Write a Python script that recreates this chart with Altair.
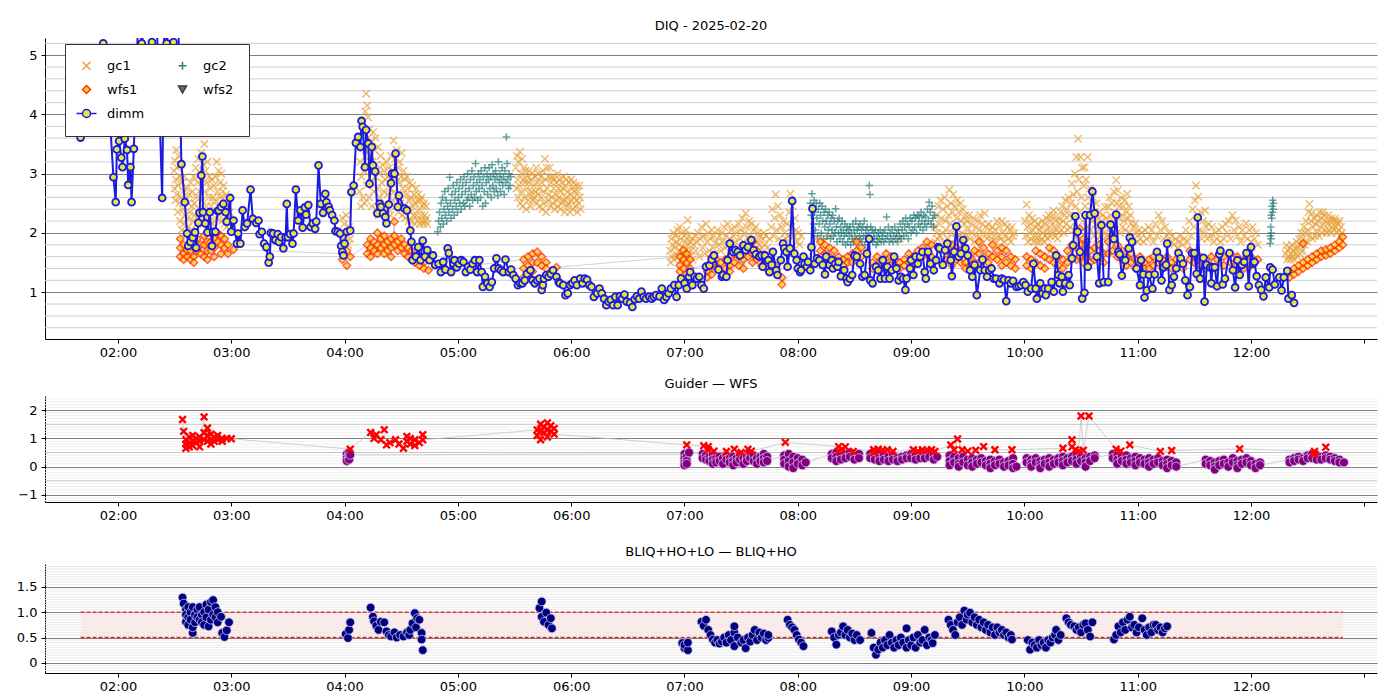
import altair as alt
import pandas as pd

# times are decimal hours (UT) on 2025-02-20

# ---------------------------------------------------------------- DIQ panel
dimm = [
    (1.67, 3.61), (1.75, 4.30), (1.82, 4.80), (1.87, 5.20), (1.90, 4.50), (1.93, 3.90),
    (1.96, 2.94), (1.98, 2.52), (1.99, 3.41), (2.01, 3.55), (2.03, 3.27), (2.04, 3.11),
    (2.06, 3.59), (2.08, 3.40), (2.09, 2.81), (2.11, 3.11), (2.12, 2.52), (2.14, 3.42),
    (2.18, 5.70), (2.21, 5.20), (2.25, 5.70), (2.30, 5.22), (2.34, 5.70), (2.39, 2.59),
    (2.41, 5.70), (2.43, 5.20), (2.46, 5.70), (2.49, 5.22), (2.53, 5.70), (2.56, 3.16),
    (2.59, 2.52), (2.61, 1.99), (2.62, 1.78), (2.64, 1.85), (2.66, 1.92), (2.68, 2.01),
    (2.69, 1.75), (2.71, 2.17), (2.72, 2.34), (2.735, 2.97), (2.745, 3.29), (2.75, 2.35),
    (2.77, 2.16), (2.79, 2.01), (2.81, 2.35), (2.83, 1.78), (2.84, 2.02), (2.86, 2.02),
    (2.88, 2.37), (2.89, 2.38), (2.91, 2.44), (2.93, 2.49), (2.95, 2.35), (2.96, 2.19),
    (2.99, 2.59), (3.00, 2.02), (3.02, 2.21), (3.05, 1.82), (3.06, 1.99), (3.08, 1.82),
    (3.10, 2.38), (3.12, 2.10), (3.14, 2.16), (3.17, 2.73), (3.19, 2.24), (3.22, 2.17),
    (3.24, 2.21), (3.25, 1.98), (3.27, 2.02), (3.29, 1.82), (3.31, 1.76), (3.33, 1.50),
    (3.34, 1.60), (3.35, 2.00), (3.37, 1.99), (3.39, 1.88), (3.41, 1.98), (3.42, 1.85),
    (3.44, 1.93), (3.46, 1.74), (3.48, 1.93), (3.49, 2.49), (3.50, 1.93), (3.52, 1.98),
    (3.54, 1.82), (3.55, 1.99), (3.57, 2.73), (3.59, 2.21), (3.61, 2.38), (3.63, 2.09),
    (3.65, 2.43), (3.66, 2.31), (3.68, 2.47), (3.70, 2.10), (3.72, 2.16), (3.74, 2.07),
    (3.75, 2.19), (3.77, 3.14), (3.79, 2.49), (3.81, 2.34), (3.83, 2.66), (3.84, 2.52),
    (3.86, 2.44), (3.87, 2.38), (3.89, 2.30), (3.91, 2.21), (3.92, 2.03), (3.94, 2.02),
    (3.96, 1.99), (3.97, 1.78), (3.98, 1.68), (3.99, 1.62), (4.00, 1.82), (4.02, 2.02),
    (4.05, 2.04), (4.06, 2.69), (4.08, 2.80), (4.10, 3.52), (4.12, 3.62), (4.14, 3.45),
    (4.15, 3.89), (4.16, 3.79), (4.18, 3.11), (4.19, 3.74), (4.21, 3.51), (4.22, 2.83),
    (4.24, 3.45), (4.25, 3.14), (4.27, 3.04), (4.29, 2.33), (4.31, 2.49), (4.32, 2.44),
    (4.34, 2.33), (4.36, 2.27), (4.37, 2.16), (4.39, 2.48), (4.41, 2.84), (4.42, 3.00),
    (4.44, 3.00), (4.45, 3.34), (4.47, 2.44), (4.48, 2.63), (4.53, 2.41), (4.55, 2.38),
    (4.58, 2.04), (4.59, 1.85), (4.60, 1.54), (4.63, 1.60), (4.65, 1.76), (4.67, 1.54),
    (4.69, 1.87), (4.71, 1.60), (4.73, 1.71), (4.75, 1.54), (4.78, 1.62), (4.80, 1.46),
    (4.83, 1.48), (4.85, 1.34), (4.87, 1.51), (4.89, 1.38), (4.91, 1.74), (4.92, 1.66),
    (4.94, 1.34), (4.96, 1.48), (4.97, 1.54), (4.99, 1.42), (5.01, 1.48), (5.03, 1.54),
    (5.05, 1.51), (5.07, 1.34), (5.09, 1.43), (5.11, 1.38), (5.13, 1.48), (5.15, 1.54),
    (5.17, 1.34), (5.19, 1.54), (5.21, 1.34), (5.22, 1.09), (5.24, 1.26), (5.26, 1.15),
    (5.28, 1.09), (5.30, 1.17), (5.32, 1.40), (5.34, 1.57), (5.36, 1.40), (5.38, 1.37),
    (5.40, 1.34), (5.42, 1.55), (5.45, 1.34), (5.47, 1.38), (5.49, 1.29), (5.51, 1.23),
    (5.53, 1.12), (5.55, 1.15), (5.57, 1.15), (5.59, 1.20), (5.61, 1.31), (5.64, 1.37),
    (5.66, 1.20), (5.68, 1.15), (5.70, 1.20), (5.72, 1.23), (5.74, 1.04), (5.75, 1.12),
    (5.76, 1.23), (5.78, 1.29), (5.80, 1.26), (5.82, 1.31), (5.84, 1.37), (5.87, 1.26),
    (5.89, 1.17), (5.90, 1.15), (5.93, 1.12), (5.95, 0.95), (5.97, 0.98), (5.99, 1.12),
    (6.01, 1.15), (6.03, 1.20), (6.05, 1.12), (6.08, 1.23), (6.10, 1.15), (6.12, 1.23),
    (6.14, 1.21), (6.16, 1.12), (6.18, 1.09), (6.20, 0.92), (6.23, 0.98), (6.25, 1.06),
    (6.27, 0.98), (6.29, 0.89), (6.31, 0.78), (6.33, 0.84), (6.35, 0.87), (6.37, 0.78),
    (6.39, 0.92), (6.41, 0.78), (6.43, 0.93), (6.45, 0.89), (6.47, 0.96), (6.49, 0.84),
    (6.52, 0.82), (6.54, 0.75), (6.56, 0.88), (6.58, 0.93), (6.60, 0.89), (6.62, 1.01),
    (6.64, 0.92), (6.66, 0.89), (6.69, 0.92), (6.71, 0.89), (6.73, 0.92), (6.75, 0.95),
    (6.78, 0.93), (6.80, 1.06), (6.82, 0.87), (6.84, 0.92), (6.86, 0.98), (6.88, 1.06),
    (6.91, 1.12), (6.93, 0.92), (6.95, 1.12), (6.97, 1.23), (7.00, 1.15), (7.02, 1.06),
    (7.04, 1.26), (7.05, 1.34), (7.07, 1.12), (7.09, 1.26), (7.11, 1.23), (7.13, 1.26),
    (7.15, 1.12), (7.17, 1.06), (7.19, 1.43), (7.22, 1.45), (7.24, 1.55), (7.26, 1.62),
    (7.30, 1.38), (7.33, 1.26), (7.34, 1.29), (7.37, 1.26), (7.38, 1.54), (7.40, 1.82),
    (7.43, 1.68), (7.45, 1.71), (7.47, 1.68), (7.49, 1.62), (7.52, 1.79), (7.54, 1.71),
    (7.56, 1.76), (7.59, 1.88), (7.61, 1.71), (7.63, 1.64), (7.66, 1.60), (7.68, 1.62),
    (7.69, 1.43), (7.71, 1.62), (7.74, 1.54), (7.75, 1.34), (7.77, 1.46), (7.78, 1.68),
    (7.81, 1.37), (7.82, 1.29), (7.85, 1.54), (7.87, 1.82), (7.88, 1.74), (7.90, 1.68),
    (7.91, 1.43), (7.93, 1.74), (7.95, 2.54), (7.97, 1.65), (7.99, 1.54), (8.00, 1.40),
    (8.02, 1.34), (8.03, 1.37), (8.05, 1.60), (8.06, 1.48), (8.08, 1.43), (8.09, 1.51),
    (8.11, 1.37), (8.12, 1.76), (8.13, 2.41), (8.15, 1.48), (8.17, 1.57), (8.19, 1.54),
    (8.22, 1.46), (8.24, 1.30), (8.25, 1.60), (8.28, 1.46), (8.30, 1.54), (8.31, 1.40),
    (8.33, 1.48), (8.35, 1.43), (8.36, 1.51), (8.38, 1.27), (8.41, 1.37), (8.43, 1.23),
    (8.44, 1.17), (8.46, 1.23), (8.48, 1.29), (8.50, 1.62), (8.52, 1.60), (8.55, 1.48),
    (8.57, 1.26), (8.59, 1.29), (8.61, 1.65), (8.63, 1.90), (8.64, 1.20), (8.66, 1.15),
    (8.69, 1.43), (8.71, 1.37), (8.73, 1.23), (8.75, 1.54), (8.77, 1.23), (8.79, 1.43),
    (8.81, 1.23), (8.83, 1.37), (8.85, 1.60), (8.87, 1.40), (8.89, 1.20), (8.91, 1.26),
    (8.93, 1.23), (8.95, 1.04), (8.96, 1.23), (8.99, 1.40), (9.00, 1.54), (9.02, 1.29),
    (9.04, 1.60), (9.06, 1.48), (9.08, 1.60), (9.10, 1.68), (9.12, 1.34), (9.13, 1.23),
    (9.15, 1.68), (9.17, 1.48), (9.20, 1.37), (9.22, 1.54), (9.24, 1.76), (9.25, 1.74),
    (9.28, 1.46), (9.30, 1.71), (9.32, 1.82), (9.35, 1.54), (9.36, 1.27), (9.38, 1.68),
    (9.40, 2.11), (9.42, 1.60), (9.44, 1.65), (9.46, 1.88), (9.48, 1.74), (9.50, 1.62),
    (9.52, 1.37), (9.54, 1.26), (9.56, 1.46), (9.58, 0.95), (9.61, 1.37), (9.63, 1.55),
    (9.65, 1.37), (9.67, 1.26), (9.69, 1.37), (9.71, 1.40), (9.73, 1.23), (9.75, 1.23),
    (9.78, 1.15), (9.80, 1.23), (9.82, 1.21), (9.84, 0.85), (9.86, 1.20), (9.88, 1.15),
    (9.90, 1.19), (9.93, 1.09), (9.95, 1.10), (9.97, 1.12), (9.99, 1.17), (10.01, 1.12),
    (10.03, 1.01), (10.06, 1.06), (10.08, 1.48), (10.10, 1.06), (10.11, 0.89), (10.14, 1.15),
    (10.16, 0.98), (10.18, 1.06), (10.19, 0.95), (10.21, 1.06), (10.24, 1.17), (10.26, 1.01),
    (10.28, 1.62), (10.30, 1.29), (10.31, 1.15), (10.33, 1.26), (10.34, 1.01), (10.36, 1.15),
    (10.39, 1.29), (10.40, 1.12), (10.42, 1.57), (10.43, 1.79), (10.45, 2.28), (10.47, 2.02),
    (10.49, 1.68), (10.51, 0.89), (10.53, 0.99), (10.54, 2.30), (10.56, 1.43), (10.58, 2.30),
    (10.60, 2.70), (10.62, 2.33), (10.64, 1.60), (10.66, 1.15), (10.68, 2.13), (10.70, 1.17),
    (10.74, 1.17), (10.76, 2.14), (10.79, 1.90), (10.81, 2.31), (10.83, 1.68), (10.84, 1.64),
    (10.86, 1.28), (10.89, 1.54), (10.92, 1.74), (10.93, 1.92), (10.95, 1.85), (10.99, 1.40),
    (11.02, 1.12), (11.03, 1.54), (11.05, 1.30), (11.06, 0.91), (11.08, 1.03), (11.10, 1.29),
    (11.13, 1.06), (11.15, 1.30), (11.17, 1.68), (11.19, 1.58), (11.21, 1.20), (11.23, 1.42),
    (11.25, 1.46), (11.26, 1.82), (11.28, 1.04), (11.30, 1.12), (11.32, 1.26), (11.34, 1.40),
    (11.36, 1.66), (11.38, 1.57), (11.40, 1.48), (11.42, 1.20), (11.44, 0.95), (11.46, 1.09),
    (11.48, 1.66), (11.50, 1.66), (11.52, 1.31), (11.53, 2.26), (11.55, 1.23), (11.58, 1.58),
    (11.59, 0.84), (11.61, 1.46), (11.64, 1.42), (11.65, 1.15), (11.66, 1.42), (11.68, 1.42),
    (11.70, 1.10), (11.72, 1.64), (11.73, 1.70), (11.75, 1.13), (11.77, 1.23), (11.81, 1.66),
    (11.84, 1.37), (11.86, 1.08), (11.88, 1.54), (11.90, 1.29), (11.92, 1.46), (11.94, 1.51),
    (11.96, 1.66), (11.98, 1.10), (12.00, 1.76), (12.02, 1.48), (12.03, 1.51), (12.05, 1.27),
    (12.07, 1.12), (12.09, 1.04), (12.11, 0.93), (12.13, 1.25), (12.16, 1.08), (12.17, 1.42),
    (12.19, 1.38), (12.21, 1.13), (12.25, 1.25), (12.27, 1.03), (12.29, 1.25), (12.32, 1.36),
    (12.33, 0.89), (12.36, 0.95), (12.38, 0.82),
]

gc1 = [
    (2.495, 3.05), (2.498, 2.75), (2.502, 3.22), (2.506, 2.55), (2.511, 2.9), (2.515, 3.4),
    (2.519, 2.65), (2.523, 3.1), (2.527, 2.35), (2.532, 2.8), (2.536, 3.3), (2.541, 2.5),
    (2.545, 2.95), (2.549, 2.2), (2.553, 3.15), (2.558, 2.6), (2.563, 2.05), (2.567, 2.85),
    (2.572, 2.4), (2.577, 2.7), (2.581, 2.15), (2.586, 2.95), (2.591, 2.3), (2.596, 2.55),
    (2.602, 2.0), (2.607, 2.75), (2.613, 2.25), (2.618, 2.5), (2.624, 2.1), (2.629, 2.65),
    (2.635, 2.35), (2.641, 2.85), (2.646, 2.05), (2.652, 2.45), (2.658, 2.7), (2.663, 2.2),
    (2.669, 2.95), (2.674, 2.5), (2.68, 2.3), (2.686, 3.1), (2.691, 2.6), (2.697, 2.15),
    (2.702, 2.85), (2.708, 3.25), (2.713, 2.4), (2.719, 2.7), (2.724, 3.0), (2.73, 2.25),
    (2.735, 3.35), (2.741, 2.55), (2.746, 2.9), (2.752, 3.15), (2.757, 2.35), (2.762, 3.5),
    (2.768, 2.7), (2.773, 3.05), (2.779, 2.45), (2.784, 2.85), (2.79, 3.2), (2.795, 2.3),
    (2.801, 2.6), (2.806, 2.95), (2.812, 2.2), (2.817, 2.75), (2.823, 2.45), (2.828, 2.9),
    (2.834, 2.15), (2.839, 2.6), (2.845, 2.8), (2.85, 2.35), (2.856, 2.55), (2.861, 2.95),
    (2.867, 2.25), (2.872, 3.2), (2.878, 2.7), (2.883, 2.45), (2.889, 3.05), (2.894, 2.3),
    (2.9, 2.85), (2.905, 2.6), (2.911, 3.0), (2.916, 2.2), (2.922, 2.7), (2.927, 2.45),
    (2.933, 2.8), (2.938, 2.15), (2.944, 2.55), (2.949, 2.35), (2.955, 2.65), (2.96, 2.1),
    (2.966, 2.45), (2.971, 2.25), (2.977, 2.55), (2.982, 2.15), (2.988, 2.35),
    (3.972, 2.0), (3.981, 2.25), (3.99, 1.9), (3.998, 2.15), (4.006, 1.85), (4.015, 2.3),
    (4.023, 2.0), (4.031, 1.8), (4.04, 2.1), (4.05, 1.9), (4.058, 2.05),
    (4.132, 2.7), (4.138, 3.2), (4.144, 2.45), (4.15, 2.95), (4.156, 3.45), (4.162, 2.6),
    (4.168, 3.75), (4.173, 3.05), (4.178, 2.5), (4.183, 4.05), (4.187, 3.4), (4.191, 4.35),
    (4.195, 2.8), (4.199, 4.15), (4.203, 3.6), (4.207, 3.95), (4.212, 3.1), (4.217, 2.6),
    (4.222, 3.75), (4.227, 3.3), (4.232, 2.85), (4.237, 3.55), (4.242, 2.45), (4.247, 3.2),
    (4.252, 3.7), (4.258, 2.7), (4.263, 3.4), (4.268, 2.95), (4.274, 3.6), (4.279, 2.4),
    (4.284, 3.15), (4.29, 2.75), (4.295, 3.45), (4.301, 2.3), (4.306, 3.0), (4.312, 2.6),
    (4.317, 3.3), (4.323, 2.45), (4.328, 2.85), (4.334, 3.15), (4.339, 2.35), (4.345, 2.7),
    (4.35, 3.05), (4.356, 2.5), (4.361, 2.9), (4.367, 2.3), (4.372, 3.2), (4.378, 2.65),
    (4.383, 2.95), (4.389, 2.4), (4.394, 3.1), (4.4, 2.75), (4.405, 2.3), (4.411, 3.3),
    (4.416, 2.9), (4.422, 2.55), (4.427, 3.05), (4.433, 3.56), (4.438, 2.7), (4.444, 3.25),
    (4.449, 2.45), (4.455, 2.95), (4.46, 3.4), (4.466, 2.6), (4.471, 3.1), (4.477, 2.35),
    (4.482, 2.85), (4.488, 3.2), (4.493, 2.5), (4.499, 2.95), (4.504, 3.35), (4.51, 2.3),
    (4.515, 2.75), (4.521, 3.05), (4.526, 2.45), (4.532, 2.9), (4.537, 2.25), (4.543, 2.65),
    (4.548, 2.95), (4.554, 2.4), (4.559, 2.75), (4.565, 2.2), (4.57, 2.55), (4.576, 2.85),
    (4.581, 2.35), (4.587, 2.6), (4.592, 2.2), (4.598, 2.8), (4.603, 2.45), (4.609, 2.3),
    (4.614, 2.65), (4.62, 2.15), (4.625, 2.5), (4.631, 2.75), (4.636, 2.3), (4.642, 2.55),
    (4.647, 2.2), (4.653, 2.65), (4.658, 2.4), (4.664, 2.15), (4.669, 2.55), (4.675, 2.3),
    (4.68, 2.6), (4.686, 2.2), (4.691, 2.45), (4.697, 2.15), (4.702, 2.5), (4.708, 2.3),
    (4.713, 2.2), (4.719, 2.45), (4.724, 2.25), (4.73, 2.15),
    (5.512, 3.1), (5.517, 2.75), (5.522, 3.3), (5.527, 2.9), (5.532, 2.6), (5.537, 3.2),
    (5.542, 2.8), (5.547, 3.37), (5.552, 2.5), (5.557, 3.0), (5.562, 2.7), (5.567, 3.25),
    (5.572, 2.45), (5.577, 2.9), (5.582, 3.1), (5.588, 2.6), (5.593, 2.85), (5.598, 3.05),
    (5.603, 2.4), (5.609, 2.75), (5.614, 2.95), (5.619, 2.55), (5.625, 2.85), (5.63, 3.05),
    (5.636, 2.65), (5.641, 2.45), (5.647, 2.9), (5.652, 2.7), (5.658, 3.0), (5.663, 2.55),
    (5.669, 2.8), (5.674, 2.6), (5.68, 2.95), (5.685, 2.7), (5.691, 3.1), (5.696, 2.5),
    (5.702, 2.85), (5.707, 2.65), (5.713, 3.0), (5.718, 2.45), (5.724, 2.75), (5.729, 2.95),
    (5.735, 2.6), (5.74, 2.85), (5.746, 2.4), (5.751, 3.05), (5.757, 2.7), (5.762, 2.5),
    (5.768, 3.25), (5.773, 2.9), (5.779, 2.35), (5.784, 3.1), (5.79, 2.75), (5.795, 2.55),
    (5.801, 2.95), (5.806, 2.65), (5.812, 3.1), (5.817, 2.45), (5.823, 2.85), (5.828, 2.6),
    (5.834, 2.95), (5.839, 2.5), (5.845, 2.75), (5.85, 2.9), (5.856, 2.4), (5.861, 2.65),
    (5.867, 2.85), (5.872, 2.55), (5.878, 3.0), (5.883, 2.45), (5.889, 2.75), (5.894, 2.6),
    (5.9, 2.9), (5.905, 2.4), (5.911, 2.7), (5.916, 2.85), (5.922, 2.5), (5.927, 2.75),
    (5.933, 2.95), (5.938, 2.55), (5.944, 2.35), (5.949, 2.8), (5.955, 2.6), (5.96, 2.9),
    (5.966, 2.45), (5.971, 2.7), (5.977, 2.5), (5.982, 2.85), (5.988, 2.35), (5.993, 2.65),
    (5.999, 2.9), (6.004, 2.55), (6.01, 2.75), (6.015, 2.4), (6.021, 2.85), (6.026, 2.6),
    (6.032, 2.7), (6.037, 2.45), (6.043, 2.8), (6.048, 2.55), (6.054, 2.35), (6.06, 2.7),
    (6.066, 2.5), (6.072, 2.8), (6.078, 2.6), (6.084, 2.4),
    (6.872, 1.7), (6.878, 1.5), (6.884, 1.9), (6.89, 1.6), (6.896, 1.8), (6.902, 2.0),
    (6.908, 1.55), (6.914, 1.75), (6.92, 1.95), (6.926, 1.65), (6.932, 1.85), (6.938, 2.05),
    (6.944, 1.6), (6.95, 1.8), (6.956, 2.1), (6.962, 1.7), (6.968, 1.9), (6.974, 1.55),
    (6.98, 2.0), (6.986, 1.75), (6.992, 1.6), (6.998, 1.95), (7.004, 1.7), (7.01, 1.85),
    (7.016, 2.05), (7.022, 1.65), (7.028, 2.22), (7.034, 1.8), (7.04, 1.95), (7.046, 1.6),
    (7.052, 1.85), (7.058, 1.7), (7.064, 1.9), (7.07, 1.55), (7.08, 1.8), (7.09, 1.95),
    (7.1, 1.7), (7.11, 1.85), (7.12, 2.0), (7.13, 1.6), (7.14, 1.9), (7.15, 2.1),
    (7.16, 1.75), (7.17, 1.95), (7.18, 1.65), (7.19, 2.15), (7.2, 1.85), (7.21, 2.0),
    (7.22, 1.7), (7.23, 1.9), (7.24, 2.05), (7.25, 1.75), (7.26, 1.95), (7.27, 1.65),
    (7.28, 1.85), (7.29, 2.05), (7.3, 1.8), (7.31, 1.95), (7.32, 1.7), (7.33, 2.0),
    (7.34, 1.85), (7.35, 2.1), (7.36, 1.75), (7.37, 1.95), (7.38, 2.15), (7.39, 1.8),
    (7.4, 1.9), (7.41, 2.05), (7.42, 1.75), (7.43, 1.95), (7.44, 2.1), (7.45, 1.85),
    (7.46, 2.0), (7.47, 1.75), (7.48, 2.15), (7.49, 1.9), (7.5, 2.05), (7.51, 2.25),
    (7.52, 1.85), (7.53, 2.0), (7.54, 2.33), (7.55, 2.1), (7.56, 1.9), (7.57, 2.2),
    (7.58, 1.95), (7.59, 2.15), (7.6, 1.8), (7.61, 2.05), (7.62, 1.9), (7.63, 2.1),
    (7.64, 1.85), (7.65, 2.0), (7.66, 1.8), (7.67, 1.95), (7.68, 1.75), (7.69, 1.9),
    (7.7, 2.0), (7.71, 1.8), (7.72, 1.95), (7.73, 1.75), (7.75, 1.9), (7.765, 2.1),
    (7.775, 2.4), (7.785, 1.95), (7.795, 2.25), (7.805, 2.65), (7.815, 2.05), (7.825, 2.45),
    (7.835, 1.9), (7.845, 2.3), (7.855, 2.1), (7.865, 1.85), (7.875, 2.2), (7.885, 2.0),
    (7.895, 1.9), (7.905, 2.15), (7.915, 1.95), (7.925, 2.35), (7.935, 2.66), (7.945, 2.1),
    (7.955, 2.45), (7.965, 1.95), (7.975, 2.25), (7.985, 2.05), (7.995, 1.85), (8.005, 2.0),
    (8.015, 1.8), (8.03, 1.95), (8.16, 1.9), (8.22, 1.85), (8.28, 1.95), (8.9, 1.9),
    (9.205, 2.1), (9.212, 1.85), (9.219, 2.3), (9.226, 2.0), (9.233, 1.9), (9.24, 2.45),
    (9.247, 2.15), (9.254, 1.95), (9.261, 2.55), (9.268, 2.25), (9.275, 2.0), (9.282, 2.4),
    (9.289, 1.85), (9.296, 2.6), (9.303, 2.2), (9.31, 2.05), (9.317, 2.45), (9.324, 1.9),
    (9.331, 2.3), (9.338, 2.73), (9.345, 2.15), (9.352, 2.5), (9.359, 2.0), (9.366, 2.35),
    (9.373, 2.65), (9.38, 2.1), (9.387, 2.45), (9.394, 1.9), (9.401, 2.25), (9.408, 2.55),
    (9.415, 2.05), (9.422, 2.35), (9.429, 1.95), (9.436, 2.5), (9.443, 2.2), (9.45, 2.0),
    (9.457, 2.4), (9.464, 1.85), (9.471, 2.15), (9.478, 2.3), (9.485, 1.95), (9.492, 2.2),
    (9.5, 2.05), (9.51, 2.3), (9.52, 1.9), (9.53, 2.15), (9.54, 2.0), (9.55, 2.25),
    (9.56, 1.85), (9.57, 2.1), (9.58, 1.95), (9.59, 2.2), (9.6, 2.05), (9.61, 2.3),
    (9.62, 1.9), (9.63, 2.15), (9.64, 2.0), (9.65, 2.33), (9.66, 2.1), (9.67, 1.9),
    (9.68, 2.15), (9.69, 1.95), (9.7, 2.05), (9.71, 1.85), (9.72, 2.1), (9.73, 1.95),
    (9.74, 2.05), (9.75, 1.85), (9.76, 2.2), (9.77, 1.95), (9.78, 2.1), (9.79, 1.9),
    (9.8, 2.2), (9.81, 2.0), (9.82, 1.85), (9.83, 2.15), (9.84, 1.95), (9.85, 2.1),
    (9.86, 1.9), (9.87, 2.05), (9.88, 1.85), (9.89, 2.1), (9.9, 1.95), (9.91, 2.0),
    (10.005, 2.2), (10.012, 1.95), (10.019, 2.48), (10.026, 2.1), (10.033, 1.85), (10.04, 2.3),
    (10.047, 2.0), (10.054, 2.15), (10.061, 1.9), (10.068, 2.25), (10.075, 2.05), (10.082, 1.85),
    (10.089, 2.2), (10.096, 1.95), (10.103, 2.1), (10.11, 1.85), (10.117, 2.15), (10.124, 1.95),
    (10.131, 2.05), (10.138, 1.85), (10.145, 2.1), (10.152, 1.9), (10.159, 2.2), (10.166, 2.0),
    (10.173, 1.85), (10.18, 2.15), (10.187, 1.95), (10.194, 2.25), (10.201, 2.05), (10.208, 1.9),
    (10.215, 2.3), (10.222, 2.1), (10.229, 1.95), (10.236, 2.2), (10.243, 2.0), (10.25, 2.3),
    (10.257, 2.38), (10.264, 2.1), (10.271, 1.95), (10.278, 2.2), (10.285, 2.05), (10.292, 1.9),
    (10.299, 2.25), (10.306, 2.0), (10.313, 2.15), (10.32, 2.35), (10.327, 2.05), (10.334, 2.45),
    (10.341, 2.2), (10.348, 2.0), (10.355, 2.3), (10.362, 2.55), (10.369, 2.15), (10.376, 2.4),
    (10.383, 2.05), (10.39, 2.6), (10.397, 2.3), (10.404, 2.1), (10.411, 2.5), (10.418, 2.83),
    (10.425, 2.25), (10.432, 2.65), (10.439, 2.05), (10.446, 3.0), (10.453, 2.45), (10.46, 3.28),
    (10.467, 2.7), (10.474, 3.59), (10.481, 2.9), (10.488, 2.35), (10.495, 3.28), (10.502, 2.6),
    (10.509, 3.1), (10.516, 2.2), (10.523, 2.8), (10.53, 3.11), (10.537, 2.45), (10.544, 2.9),
    (10.551, 2.1), (10.558, 3.28), (10.565, 2.6), (10.572, 2.3), (10.579, 2.75), (10.586, 2.05),
    (10.593, 2.45), (10.6, 2.2), (10.607, 2.6), (10.614, 1.95), (10.621, 2.35), (10.628, 2.15),
    (10.635, 2.5), (10.642, 1.9), (10.649, 2.25), (10.656, 2.05), (10.663, 2.35), (10.67, 1.95),
    (10.677, 2.2), (10.684, 2.05), (10.691, 2.3), (10.698, 1.9), (10.705, 2.15), (10.712, 2.44),
    (10.719, 2.0), (10.726, 2.25), (10.733, 1.95), (10.74, 2.44), (10.747, 2.1), (10.754, 2.6),
    (10.761, 2.3), (10.768, 2.0), (10.775, 2.5), (10.782, 2.2), (10.789, 2.7), (10.796, 2.35),
    (10.803, 2.05), (10.81, 2.89), (10.817, 2.5), (10.824, 2.72), (10.831, 2.25), (10.838, 2.45),
    (10.845, 2.0), (10.852, 2.6), (10.859, 2.3), (10.866, 2.1), (10.873, 2.45), (10.88, 2.2),
    (10.887, 2.55), (10.894, 2.05), (10.901, 2.35), (10.908, 2.66), (10.915, 2.25), (10.922, 2.45),
    (10.929, 2.0), (10.936, 2.3), (10.943, 2.16), (10.95, 1.95), (10.96, 2.1), (10.97, 1.9),
    (10.98, 2.16), (10.99, 2.0), (11.0, 1.85), (11.01, 2.05), (11.02, 1.9), (11.035, 2.0),
    (11.05, 1.85), (11.065, 2.05), (11.08, 1.9), (11.095, 2.1), (11.11, 1.95), (11.125, 2.05),
    (11.14, 1.85), (11.155, 2.15), (11.17, 1.95), (11.185, 2.3), (11.2, 2.05), (11.215, 2.2),
    (11.23, 1.9), (11.245, 2.1), (11.26, 1.95), (11.275, 2.0), (11.29, 1.85), (11.305, 1.95),
    (11.32, 1.8), (11.335, 1.9), (11.35, 1.75), (11.365, 1.85), (11.38, 1.95), (11.395, 1.8),
    (11.41, 1.9), (11.425, 2.05), (11.44, 1.85), (11.455, 2.2), (11.47, 1.95), (11.485, 2.4),
    (11.495, 2.1), (11.505, 2.55), (11.515, 2.8), (11.525, 2.3), (11.535, 2.61), (11.545, 2.05),
    (11.555, 2.35), (11.565, 1.9), (11.575, 2.2), (11.585, 2.0), (11.595, 2.38), (11.605, 2.1),
    (11.615, 1.9), (11.625, 2.15), (11.64, 1.95), (11.655, 2.1), (11.67, 1.85), (11.685, 2.0),
    (11.7, 1.9), (11.715, 2.05), (11.73, 1.85), (11.745, 2.1), (11.76, 1.9), (11.775, 2.15),
    (11.79, 2.0), (11.805, 2.2), (11.82, 1.9), (11.835, 2.3), (11.85, 2.05), (11.865, 2.21),
    (11.88, 1.95), (11.895, 2.1), (11.91, 1.85), (11.925, 2.05), (11.94, 1.95), (11.955, 2.16),
    (11.97, 1.9), (11.985, 2.05), (12.0, 1.85), (12.015, 2.1), (12.03, 1.9), (12.045, 2.0),
    (12.06, 1.8),
    (12.305, 1.65), (12.312, 1.79), (12.319, 1.55), (12.326, 1.7), (12.333, 1.6), (12.34, 1.75),
    (12.347, 1.55), (12.354, 1.65), (12.361, 1.8), (12.368, 1.6), (12.375, 1.7), (12.382, 1.55),
    (12.389, 1.75), (12.396, 1.65), (12.403, 1.85), (12.41, 1.6), (12.417, 1.75), (12.424, 1.9),
    (12.431, 1.65), (12.438, 1.8), (12.445, 2.0), (12.452, 1.7), (12.459, 1.9), (12.466, 2.1),
    (12.473, 1.8), (12.48, 2.0), (12.487, 2.2), (12.494, 1.85), (12.501, 2.05), (12.508, 2.35),
    (12.515, 2.49), (12.522, 1.95), (12.529, 2.2), (12.536, 2.33), (12.543, 1.9), (12.55, 2.1),
    (12.557, 2.25), (12.564, 1.95), (12.571, 2.15), (12.578, 2.3), (12.585, 2.0), (12.592, 2.2),
    (12.599, 1.95), (12.606, 2.35), (12.613, 2.1), (12.62, 2.25), (12.627, 2.0), (12.634, 2.35),
    (12.641, 2.15), (12.648, 2.3), (12.655, 2.05), (12.662, 2.2), (12.669, 2.0), (12.676, 2.15),
    (12.683, 2.3), (12.69, 2.05), (12.697, 2.2), (12.704, 2.0), (12.711, 2.25), (12.718, 2.1),
    (12.725, 2.2), (12.732, 2.05), (12.739, 2.24), (12.746, 2.1), (12.753, 2.2), (12.76, 2.0),
    (12.767, 2.15), (12.774, 2.05), (12.781, 2.2), (12.788, 1.95), (12.795, 2.1), (12.802, 2.0),
]

gc2 = [
    (4.822, 2.02), (4.83, 2.2), (4.838, 2.35), (4.845, 2.1), (4.852, 2.5), (4.858, 2.25),
    (4.865, 2.6), (4.871, 2.15), (4.877, 2.4), (4.884, 2.7), (4.89, 2.3), (4.896, 2.55),
    (4.902, 2.2), (4.909, 2.45), (4.915, 2.75), (4.921, 2.35), (4.928, 2.94), (4.934, 2.5),
    (4.94, 2.25), (4.947, 2.65), (4.953, 2.4), (4.959, 2.8), (4.966, 2.3), (4.972, 2.55),
    (4.978, 2.7), (4.985, 2.45), (4.991, 2.85), (4.997, 2.35), (5.004, 2.6), (5.01, 2.75),
    (5.016, 2.5), (5.023, 2.9), (5.029, 2.4), (5.035, 2.65), (5.042, 2.8), (5.048, 2.5),
    (5.054, 2.95), (5.061, 2.45), (5.067, 2.7), (5.073, 2.85), (5.08, 2.55), (5.086, 3.0),
    (5.092, 2.6), (5.099, 2.75), (5.105, 2.45), (5.111, 2.9), (5.118, 2.65), (5.124, 3.05),
    (5.13, 2.55), (5.137, 2.8), (5.143, 2.95), (5.149, 2.6), (5.156, 3.17), (5.162, 2.7),
    (5.168, 2.85), (5.175, 2.55), (5.181, 3.0), (5.187, 2.75), (5.194, 2.9), (5.2, 2.6),
    (5.206, 3.05), (5.213, 2.8), (5.219, 2.45), (5.225, 2.95), (5.232, 2.7), (5.238, 3.1),
    (5.244, 2.5), (5.251, 2.85), (5.257, 3.0), (5.263, 2.65), (5.27, 2.9), (5.276, 3.1),
    (5.282, 2.75), (5.289, 2.95), (5.295, 2.6), (5.301, 3.15), (5.308, 2.8), (5.314, 3.0),
    (5.32, 2.7), (5.327, 2.9), (5.333, 3.05), (5.339, 2.75), (5.346, 2.95), (5.352, 2.63),
    (5.358, 3.2), (5.365, 2.85), (5.371, 3.0), (5.377, 2.7), (5.384, 2.9), (5.39, 3.1),
    (5.396, 2.8), (5.403, 2.95), (5.409, 2.65), (5.415, 3.05), (5.422, 2.85), (5.428, 3.62),
    (5.434, 3.17), (5.441, 2.9), (5.447, 2.75), (5.453, 3.0), (5.46, 2.8), (5.466, 2.95),
    (8.112, 2.5), (8.118, 2.3), (8.125, 2.66), (8.131, 2.45), (8.137, 2.15), (8.144, 2.55),
    (8.15, 2.35), (8.156, 2.05), (8.163, 2.5), (8.169, 2.25), (8.175, 1.95), (8.182, 2.4),
    (8.188, 2.15), (8.194, 2.5), (8.201, 2.3), (8.207, 2.0), (8.213, 2.45), (8.22, 2.2),
    (8.226, 1.9), (8.232, 2.35), (8.239, 2.1), (8.245, 2.4), (8.251, 2.2), (8.258, 1.95),
    (8.264, 2.3), (8.27, 2.05), (8.277, 2.35), (8.283, 2.15), (8.289, 1.9), (8.296, 2.25),
    (8.302, 2.05), (8.308, 2.3), (8.315, 1.95), (8.321, 2.2), (8.327, 2.0), (8.334, 2.41),
    (8.34, 2.1), (8.346, 1.85), (8.353, 2.2), (8.359, 2.0), (8.365, 2.25), (8.372, 1.9),
    (8.378, 2.1), (8.384, 2.0), (8.391, 2.2), (8.397, 1.85), (8.403, 2.05), (8.41, 1.95),
    (8.416, 2.15), (8.422, 1.8), (8.429, 2.0), (8.435, 2.1), (8.441, 1.85), (8.448, 2.05),
    (8.454, 1.95), (8.46, 2.1), (8.467, 1.8), (8.473, 2.0), (8.479, 1.9), (8.486, 2.15),
    (8.492, 1.85), (8.498, 2.05), (8.505, 1.95), (8.511, 2.2), (8.517, 1.9), (8.524, 2.05),
    (8.53, 1.85), (8.536, 2.1), (8.543, 1.95), (8.549, 2.15), (8.555, 1.9), (8.562, 2.05),
    (8.568, 1.85), (8.574, 2.1), (8.581, 1.95), (8.587, 2.2), (8.593, 1.8), (8.6, 2.05),
    (8.606, 1.95), (8.612, 2.1), (8.619, 1.85), (8.625, 2.0), (8.631, 2.80), (8.637, 2.65),
    (8.644, 2.1), (8.65, 1.9), (8.657, 2.05), (8.663, 1.85), (8.67, 2.0), (8.677, 1.9),
    (8.684, 2.05), (8.691, 1.8), (8.698, 1.95), (8.705, 1.85), (8.712, 2.0), (8.72, 1.9),
    (8.728, 2.05), (8.736, 1.85), (8.744, 1.95), (8.752, 2.0), (8.76, 1.85), (8.768, 2.05),
    (8.776, 1.9), (8.784, 2.27), (8.792, 1.95), (8.8, 2.1), (8.808, 1.85), (8.816, 2.0),
    (8.824, 1.9), (8.832, 2.05), (8.84, 1.85), (8.848, 1.95), (8.856, 2.1), (8.864, 1.9),
    (8.872, 2.0), (8.88, 1.85), (8.888, 2.05), (8.896, 1.95), (8.904, 2.15), (8.912, 1.9),
    (8.92, 2.05), (8.928, 2.2), (8.936, 1.95), (8.944, 2.1), (8.952, 2.25), (8.96, 2.0),
    (8.968, 2.15), (8.976, 1.9), (8.984, 2.1), (8.992, 2.25), (9.0, 2.0), (9.008, 2.2),
    (9.016, 2.05), (9.024, 2.3), (9.032, 2.1), (9.04, 2.25), (9.048, 2.0), (9.056, 2.3),
    (9.064, 2.15), (9.072, 2.27), (9.08, 2.1), (9.088, 2.35), (9.096, 2.2), (9.104, 2.05),
    (9.112, 2.3), (9.12, 2.15), (9.128, 2.27), (9.136, 2.1), (9.144, 2.4), (9.152, 2.2),
    (9.16, 2.52), (9.168, 2.35), (9.176, 2.15), (9.184, 2.45), (9.192, 2.25), (9.2, 2.1),
    (9.208, 2.3),
    (12.168, 1.82), (12.171, 1.95), (12.174, 2.1), (12.177, 1.9), (12.178, 2.3), (12.18, 2.0),
    (12.183, 2.25), (12.186, 2.45), (12.189, 2.35), (12.192, 2.55), (12.195, 2.4), (12.198, 2.5),
]

wfs1 = [
    (2.55, [1.9, 1.75, 1.6]), (2.58, [1.8, 1.65, 1.55]), (2.61, [1.7, 1.6]),
    (2.64, [1.85, 1.7, 1.55]), (2.67, [1.75, 1.6, 1.5]), (2.70, [1.9, 1.7]),
    (2.73, [1.8, 1.65]), (2.76, [1.95, 1.8, 1.6]), (2.79, [1.85, 1.7, 1.55]),
    (2.82, [2.0, 1.85, 1.7]), (2.85, [1.9, 1.75, 1.6]), (2.88, [2.0, 1.85]),
    (2.91, [1.95, 1.8, 1.65]), (2.94, [1.9, 1.75]), (2.97, [1.8, 1.65]), (3.02, [1.72]),
    (3.98, [1.65, 1.55]), (4.02, [1.7, 1.45]), (4.05, [1.6]),
    (4.20, [1.8, 1.65]), (4.23, [1.9, 1.75, 1.6]), (4.26, [1.85, 1.7]),
    (4.29, [2.0, 1.8, 1.65]), (4.32, [1.9, 1.75]), (4.35, [1.95, 1.8, 1.65]),
    (4.38, [1.85, 1.7]), (4.41, [1.9, 1.75, 1.6]), (4.44, [2.19, 1.95, 1.8]),
    (4.47, [1.85, 1.7]), (4.50, [1.9, 1.75]), (4.53, [1.8, 1.65]), (4.56, [1.75, 1.6]),
    (4.59, [1.7, 1.55]), (4.62, [1.6, 1.5]), (4.66, [1.55, 1.45]), (4.70, [1.5, 1.4]),
    (4.74, [1.37]),
    (5.58, [1.55, 1.4, 1.25]), (5.62, [1.6, 1.45, 1.3]), (5.66, [1.65, 1.5, 1.35]),
    (5.70, [1.68, 1.5]), (5.74, [1.6, 1.45]), (5.78, [1.5, 1.4]), (5.87, [1.42]),
    (6.96, [1.6, 1.45, 1.35]), (6.99, [1.71, 1.55, 1.4]), (7.02, [1.65, 1.5, 1.31]),
    (7.05, [1.55, 1.4]),
    (7.20, [1.45, 1.35, 1.25]), (7.24, [1.6, 1.45, 1.3]), (7.28, [1.55, 1.4]),
    (7.32, [1.5, 1.35]), (7.36, [1.55, 1.4]), (7.40, [1.6, 1.45, 1.35]), (7.44, [1.65, 1.5]),
    (7.48, [1.6, 1.45]), (7.52, [1.7, 1.55, 1.4]), (7.56, [1.75, 1.6]),
    (7.60, [1.85, 1.65, 1.5]), (7.64, [1.7, 1.55]), (7.68, [1.6, 1.45]), (7.72, [1.55, 1.4]),
    (7.76, [1.5, 1.35]), (7.80, [1.45]), (7.86, [1.25, 1.13]),
    (8.20, [1.85, 1.7]), (8.24, [1.8, 1.65, 1.5]), (8.28, [1.75, 1.6]), (8.32, [1.7, 1.55]),
    (8.36, [1.6, 1.5]), (8.40, [1.55, 1.45]), (8.44, [1.6, 1.5]), (8.48, [1.65, 1.5]),
    (8.52, [1.85, 1.7]), (8.56, [1.75, 1.6]),
    (8.66, [1.5, 1.4]), (8.70, [1.6, 1.45]), (8.74, [1.55, 1.4]), (8.78, [1.65, 1.5]),
    (8.82, [1.6, 1.45]), (8.86, [1.55, 1.4]), (8.90, [1.5, 1.4]), (8.94, [1.55, 1.45]),
    (8.98, [1.65, 1.5]), (9.02, [1.6, 1.45]), (9.06, [1.7, 1.55]), (9.10, [1.75, 1.6]),
    (9.14, [1.85, 1.65]), (9.18, [1.8, 1.6]),
    (9.32, [1.7, 1.55]), (9.36, [1.8, 1.6, 1.45]), (9.40, [1.75, 1.55]), (9.44, [1.7, 1.5]),
    (9.48, [1.65, 1.5, 1.4]), (9.52, [1.6, 1.45]), (9.56, [1.7, 1.5]),
    (9.60, [1.85, 1.65, 1.5]), (9.64, [1.75, 1.55]), (9.68, [1.65, 1.5]), (9.72, [1.8, 1.6]),
    (9.76, [1.7, 1.55]), (9.80, [1.75, 1.6, 1.45]), (9.84, [1.7, 1.5]), (9.88, [1.6, 1.45]),
    (9.92, [1.55, 1.4]),
    (10.02, [1.6, 1.45]), (10.06, [1.55, 1.4]), (10.10, [1.7, 1.5]), (10.14, [1.65, 1.45]),
    (10.18, [1.6, 1.4]), (10.22, [1.75, 1.55]), (10.26, [1.7, 1.5]), (10.30, [1.6, 1.45]),
    (10.34, [1.55, 1.4]), (10.38, [1.7, 1.5]), (10.42, [1.8, 1.6]),
    (10.46, [2.0, 1.75, 1.55]), (10.49, [2.07, 1.8, 1.6]), (10.52, [1.9, 1.7, 1.5]),
    (10.55, [1.85, 1.6]), (10.58, [1.7, 1.5]), (10.62, [1.75, 1.55]), (10.66, [1.8, 1.6]),
    (10.70, [1.65, 1.5]), (10.74, [1.85, 1.65]), (10.78, [1.95, 1.7]), (10.82, [1.8, 1.6]),
    (10.86, [1.7, 1.55]), (10.90, [1.6, 1.45]), (10.94, [1.65, 1.5]), (10.98, [1.55, 1.4]),
    (11.02, [1.6, 1.45]), (11.06, [1.5, 1.4]), (11.10, [1.55, 1.4]), (11.14, [1.6, 1.45]),
    (11.18, [1.5]), (11.22, [1.55, 1.4]), (11.26, [1.6, 1.45]), (11.30, [1.5, 1.4]),
    (11.34, [1.55]), (11.40, [1.5, 1.4]), (11.46, [1.7, 1.55]), (11.50, [1.65, 1.5]),
    (11.55, [1.6, 1.45]), (11.60, [1.55, 1.4]), (11.65, [1.6, 1.45]), (11.70, [1.55]),
    (11.76, [1.6, 1.45]), (11.82, [1.65, 1.5]), (11.88, [1.6, 1.45]), (11.94, [1.55, 1.4]),
    (12.00, [1.6, 1.45]), (12.06, [1.55]),
    (12.34, [1.25, 1.35]), (12.38, [1.3, 1.4]), (12.42, [1.35, 1.45]), (12.46, [1.4, 1.5, 1.82]),
    (12.50, [1.45, 1.55]), (12.54, [1.5, 1.6]), (12.58, [1.55, 1.65]), (12.62, [1.6, 1.7]),
    (12.66, [1.62, 1.72]), (12.70, [1.65, 1.75]), (12.74, [1.7, 1.8]), (12.78, [1.75, 1.85]),
    (12.81, [1.93, 1.8]),
]

wfs2 = []

# ---------------------------------------------------------------- Guider - WFS panel
guider = [
    (2.57, [1.67]), (2.58, [1.25]), (2.60, [0.95, 0.8, 0.65]), (2.63, [1.05, 0.85, 0.7]),
    (2.66, [1.1, 0.9, 0.75]), (2.69, [1.0, 0.85]), (2.72, [1.05, 0.9, 0.7]),
    (2.76, [1.76, 1.2, 0.95]), (2.79, [1.37, 1.1, 0.9]), (2.82, [1.15, 0.95, 0.8]),
    (2.85, [1.05, 0.9]), (2.88, [1.1, 0.95]), (2.92, [1.0, 0.9]), (2.96, [1.0]), (3.00, [0.99]),
    (4.05, [0.62]), (4.23, [1.21]), (4.26, [1.0]), (4.28, [1.13]), (4.32, [0.95]),
    (4.35, [1.31]), (4.37, [0.77]), (4.40, [0.85]), (4.45, [0.95]), (4.48, [0.8]),
    (4.52, [0.65]), (4.55, [1.07, 0.9]), (4.58, [0.8, 1.0]), (4.62, [0.75, 0.95]),
    (4.66, [0.85]), (4.69, [1.13, 0.95]),
    (5.70, [1.3, 1.1]), (5.73, [1.5, 1.25, 0.95]), (5.76, [1.4, 1.2]),
    (5.79, [1.55, 1.3, 1.05]), (5.82, [1.45, 1.25]), (5.85, [1.35, 1.15]),
    (7.02, [0.77]), (7.17, [0.74]), (7.21, [0.71, 0.6]), (7.26, [0.55]), (7.37, [0.54]),
    (7.44, [0.62]), (7.50, [0.5]), (7.56, [0.62]), (7.59, [0.55]), (7.89, [0.86]),
    (8.36, [0.71, 0.55]), (8.39, [0.62]), (8.42, [0.7]), (8.49, [0.54]), (8.67, [0.6, 0.5]),
    (8.71, [0.62]), (8.75, [0.58]), (8.79, [0.6]), (8.84, [0.54]), (9.02, [0.6]),
    (9.06, [0.55]), (9.10, [0.6]), (9.14, [0.58]), (9.18, [0.6]), (9.21, [0.54]),
    (9.35, [0.77]), (9.38, [0.6]), (9.41, [0.98]), (9.45, [0.6]), (9.50, [0.55]),
    (9.57, [0.58]), (9.64, [0.71]), (9.74, [0.6]), (9.89, [0.6]), (10.34, [0.65]),
    (10.42, [0.95, 0.7]), (10.45, [0.6]), (10.48, [0.55]), (10.50, [1.79]), (10.52, [0.58]),
    (10.57, [1.79]), (10.81, [0.62]), (10.85, [0.55]), (10.93, [0.77]), (11.20, [0.54]),
    (11.30, [0.57]), (11.90, [0.63]), (12.56, [0.54, 0.45]), (12.66, [0.69]),
]

wfs = [
    (4.02, [0.45, 0.3, 0.2]), (4.04, [0.5, 0.35, 0.25]), (4.05, [0.42]),
    (7.00, [0.45, 0.3, 0.15, 0.05]), (7.02, [0.36, 0.2, 0.1]), (7.04, [0.5]),
    (7.16, [0.45, 0.3]), (7.19, [0.4, 0.25]), (7.22, [0.35, 0.2]), (7.25, [0.4, 0.25, 0.1]),
    (7.28, [0.3, 0.15]), (7.31, [0.35, 0.2]), (7.34, [0.3, 0.1]), (7.37, [0.4, 0.25]),
    (7.40, [0.3, 0.15]), (7.43, [0.35, 0.2, 0.05]), (7.46, [0.3, 0.15]), (7.49, [0.4, 0.25]),
    (7.52, [0.3, 0.1]), (7.55, [0.35, 0.2]), (7.58, [0.45, 0.3]), (7.61, [0.4, 0.2]),
    (7.64, [0.3, 0.1]), (7.67, [0.35, 0.2]), (7.70, [0.45, 0.3, 0.15]), (7.73, [0.35, 0.2]),
    (7.88, [0.4, 0.25, 0.1]), (7.92, [0.45, 0.2, 0.0]), (7.96, [0.35, 0.15, -0.05]),
    (8.00, [0.3, 0.1]), (8.04, [0.25, 0.05]), (8.07, [0.15]),
    (8.30, [0.45, 0.3]), (8.34, [0.5, 0.35, 0.2]), (8.38, [0.4, 0.25]), (8.42, [0.45, 0.3]),
    (8.46, [0.5, 0.35]), (8.50, [0.4, 0.25]), (8.54, [0.45, 0.3]),
    (8.64, [0.45, 0.3]), (8.68, [0.4, 0.25]), (8.72, [0.45, 0.3, 0.2]), (8.76, [0.4, 0.25]),
    (8.80, [0.35, 0.2]), (8.84, [0.4, 0.25]), (8.88, [0.3, 0.2]), (8.92, [0.35, 0.25]),
    (8.96, [0.4, 0.3]), (9.00, [0.45, 0.3]), (9.04, [0.4, 0.25]), (9.08, [0.45, 0.3]),
    (9.12, [0.4, 0.3]), (9.16, [0.45, 0.35]), (9.20, [0.4, 0.25]), (9.23, [0.35]),
    (9.34, [0.4, 0.2, 0.05]), (9.38, [0.35, 0.15]), (9.42, [0.3, 0.1, 0.0]), (9.46, [0.35, 0.15]),
    (9.50, [0.25, 0.05]), (9.54, [0.3, 0.15, 0.0]), (9.58, [0.25, 0.1]), (9.62, [0.3, 0.15]),
    (9.66, [0.2, 0.05]), (9.70, [0.25, 0.1, -0.05]), (9.74, [0.2, 0.05]), (9.78, [0.25, 0.1]),
    (9.82, [0.15, 0.0]), (9.86, [0.2, 0.05]), (9.90, [0.3, 0.1, -0.05]), (9.93, [0.0]),
    (10.02, [0.3, 0.15]), (10.06, [0.25, 0.1, 0.0]), (10.10, [0.3, 0.15]),
    (10.14, [0.2, 0.05, -0.05]), (10.18, [0.25, 0.1]), (10.22, [0.3, 0.15, 0.0]),
    (10.26, [0.25, 0.1]), (10.30, [0.3, 0.15]), (10.34, [0.35, 0.2, 0.05]), (10.38, [0.3, 0.15]),
    (10.42, [0.35, 0.2]), (10.46, [0.4, 0.25, 0.1]), (10.50, [0.35, 0.2]),
    (10.54, [0.3, 0.15, 0.0]), (10.58, [0.35, 0.2]), (10.62, [0.4, 0.3]),
    (10.78, [0.45, 0.3]), (10.82, [0.4, 0.25, 0.1]), (10.86, [0.35, 0.2]),
    (10.90, [0.4, 0.25, 0.1]), (10.94, [0.3, 0.15]), (10.98, [0.35, 0.2, 0.05]),
    (11.02, [0.3, 0.15]), (11.06, [0.25, 0.1]), (11.10, [0.3, 0.15, 0.0]), (11.14, [0.25, 0.1]),
    (11.18, [0.3, 0.15]), (11.22, [0.2, 0.05]), (11.26, [0.25, 0.1, -0.05]), (11.30, [0.2, 0.05]),
    (11.34, [0.15, 0.0]),
    (11.60, [0.25, 0.1]), (11.64, [0.2, 0.05]), (11.68, [0.15, 0.0, -0.1]), (11.72, [0.2, 0.05]),
    (11.76, [0.25, 0.1]), (11.80, [0.15, 0.0]), (11.84, [0.3, 0.15]), (11.88, [0.2, 0.05, -0.05]),
    (11.92, [0.25, 0.1]), (11.96, [0.3, 0.15]), (12.00, [0.2, 0.05]), (12.04, [0.1, -0.05]),
    (12.08, [0.15, 0.05]),
    (12.34, [0.25, 0.15]), (12.38, [0.3, 0.2]), (12.42, [0.35, 0.25]), (12.46, [0.3, 0.2]),
    (12.50, [0.4, 0.3]), (12.54, [0.45, 0.3]), (12.58, [0.4, 0.25]), (12.62, [0.35, 0.25]),
    (12.66, [0.4, 0.3]), (12.70, [0.35, 0.25]), (12.74, [0.3, 0.2]), (12.78, [0.25, 0.15]),
    (12.82, [0.15]),
]

# ---------------------------------------------------------------- BLIQ panel
bliq = [
    (2.57, [1.29]), (2.58, [1.17]), (2.60, [0.81, 1.05, 0.95]), (2.62, [1.1, 0.9, 0.75]),
    (2.64, [1.0, 0.85]), (2.66, [0.59, 0.7, 1.1]), (2.68, [0.95, 0.8]), (2.70, [1.05, 0.9]),
    (2.72, [1.1, 0.85]), (2.74, [0.95, 0.8]), (2.76, [1.0, 0.75]), (2.78, [0.9, 1.15]),
    (2.80, [0.72, 1.05]), (2.82, [0.85, 1.2]), (2.84, [1.24, 0.95]), (2.86, [1.1, 0.9]),
    (2.88, [1.0, 0.8]), (2.91, [0.91]), (2.92, [0.59]), (2.94, [0.51]), (2.96, [0.64]),
    (2.98, [0.80]),
    (4.01, [0.57]), (4.03, [0.49]), (4.04, [0.65]), (4.05, [0.80]),
    (4.23, [1.09]), (4.25, [0.91]), (4.26, [0.82]), (4.28, [0.73]), (4.30, [0.65]),
    (4.32, [0.81]), (4.35, [0.80]), (4.37, [0.62]), (4.39, [0.55]), (4.41, [0.52]),
    (4.44, [0.6]), (4.46, [0.5]), (4.49, [0.55]), (4.52, [0.52]), (4.55, [0.6]), (4.57, [0.55]),
    (4.58, [0.65]), (4.60, [0.78]), (4.62, [0.98]), (4.63, [0.7]), (4.64, [0.88]), (4.66, [0.85]),
    (4.68, [0.59, 0.46]), (4.69, [0.25]),
    (5.72, [1.08]), (5.74, [1.21, 0.91]), (5.76, [0.81]), (5.78, [0.99]), (5.80, [0.75]),
    (5.82, [0.88]), (5.83, [0.68]),
    (6.98, [0.39]), (7.00, [0.29, 0.35]), (7.03, [0.25, 0.4]),
    (7.15, [0.81]), (7.17, [0.73]), (7.19, [0.85]), (7.21, [0.65]), (7.23, [0.55]), (7.25, [0.46]),
    (7.27, [0.4]), (7.29, [0.45]), (7.31, [0.38]), (7.33, [0.42]), (7.35, [0.5]), (7.37, [0.4]),
    (7.39, [0.55]), (7.41, [0.45]), (7.44, [0.33, 0.6, 0.72]), (7.47, [0.5]), (7.50, [0.4]),
    (7.52, [0.45]), (7.54, [0.29]), (7.56, [0.5]), (7.58, [0.42]), (7.60, [0.55]), (7.62, [0.65]),
    (7.64, [0.45]), (7.66, [0.6]), (7.68, [0.5]), (7.70, [0.58]), (7.72, [0.45]), (7.74, [0.49, 0.55]),
    (7.91, [0.85]), (7.93, [0.75]), (7.95, [0.7]), (7.97, [0.65]), (7.99, [0.55]), (8.01, [0.46]),
    (8.03, [0.4]), (8.05, [0.33]),
    (8.30, [0.62]), (8.32, [0.5]), (8.34, [0.36]), (8.36, [0.55]), (8.38, [0.6]), (8.40, [0.72]),
    (8.42, [0.55]), (8.44, [0.65]), (8.46, [0.5]), (8.48, [0.58]), (8.50, [0.45]), (8.52, [0.55]),
    (8.55, [0.45]),
    (8.65, [0.59]), (8.67, [0.3]), (8.69, [0.16]), (8.71, [0.26]), (8.73, [0.4]), (8.75, [0.3]),
    (8.77, [0.45]), (8.79, [0.35]), (8.81, [0.55]), (8.83, [0.4]), (8.85, [0.3]), (8.87, [0.45]),
    (8.89, [0.35]), (8.91, [0.5]), (8.93, [0.4]), (8.96, [0.68, 0.3]), (8.98, [0.45]), (9.00, [0.35]),
    (9.02, [0.5]), (9.04, [0.3]), (9.06, [0.55]), (9.08, [0.4]), (9.10, [0.45]), (9.12, [0.65]),
    (9.14, [0.35]), (9.16, [0.5]), (9.18, [0.45]), (9.19, [0.39]), (9.21, [0.55]),
    (9.33, [0.85]), (9.35, [0.75]), (9.37, [0.65]), (9.39, [0.55]), (9.41, [0.8]), (9.43, [0.9]),
    (9.45, [0.75]), (9.47, [1.03]), (9.49, [0.85]), (9.50, [0.95]), (9.52, [0.99]), (9.54, [0.8]),
    (9.56, [0.9]), (9.58, [0.75]), (9.60, [0.85]), (9.62, [0.7]), (9.64, [0.8]), (9.66, [0.65]),
    (9.68, [0.75]), (9.70, [0.6]), (9.72, [0.7]), (9.74, [0.55]), (9.76, [0.7]), (9.78, [0.6]),
    (9.80, [0.65]), (9.82, [0.55]), (9.84, [0.6]), (9.86, [0.5]), (9.88, [0.55]), (9.89, [0.46]),
    (10.03, [0.45]), (10.05, [0.26]), (10.07, [0.4]), (10.09, [0.35]), (10.11, [0.3]),
    (10.13, [0.45]), (10.15, [0.35]), (10.17, [0.4]), (10.19, [0.3]), (10.21, [0.45]),
    (10.23, [0.4]), (10.25, [0.5]), (10.27, [0.55]), (10.28, [0.65]), (10.30, [0.45]),
    (10.32, [0.55]),
    (10.37, [0.88]), (10.39, [0.8]), (10.41, [0.75]), (10.44, [0.72]), (10.46, [0.65]),
    (10.48, [0.7]), (10.50, [0.6]), (10.52, [0.75]), (10.54, [0.78]), (10.56, [0.65]),
    (10.58, [0.52]), (10.60, [0.8]),
    (10.79, [0.46]), (10.81, [0.55]), (10.83, [0.72]), (10.85, [0.6]), (10.87, [0.8]),
    (10.89, [0.65]), (10.91, [0.85]), (10.93, [0.91]), (10.95, [0.7]), (10.97, [0.75]),
    (10.99, [0.6]), (11.01, [0.7]), (11.04, [0.88]), (11.06, [0.65]), (11.08, [0.55]),
    (11.10, [0.7]), (11.12, [0.6]), (11.14, [0.75]), (11.16, [0.75]), (11.18, [0.65]),
    (11.20, [0.7]), (11.22, [0.6]), (11.24, [0.68]), (11.26, [0.72]),
]
bliq_limits = [0.5, 1.0]

series_order = ["gc1", "gc2", "wfs1", "wfs2", "dimm"]

# ---------------------------------------------------------------- styling
FONT = "DejaVu Sans"
X_PATH = "M-1,-1L1,1M-1,1L1,-1"
PLUS_PATH = "M-1,0L1,0M0,-1L0,1"
DIMM_PATH = "M-2.5,0L-1,0A1,1,0,1,1,1,0A1,1,0,1,1,-1,0M1,0L2.5,0"
X_DOMAIN = [1.356, 13.112]
W = 1332


def expand(cols, name):
    rows = [{"t": t, "v": v, "series": name} for t, vs in cols for v in vs]
    return pd.DataFrame(rows, columns=["t", "v", "series"])


def pairs(pts, name):
    df = pd.DataFrame(pts, columns=["t", "v"])
    df["series"] = name
    return df


def x_enc(field="t"):
    return alt.X(
        f"{field}:Q",
        scale=alt.Scale(domain=X_DOMAIN, nice=False, zero=False),
        axis=alt.Axis(
            values=list(range(2, 14)), grid=False, tickSize=4, labelPadding=3,
            labelExpr="datum.value > 12 ? '' : (datum.value < 10 ? '0' : '') + datum.value + ':00'",
        ),
        title=None,
    )


def y_enc(field, domain, ticks, label_expr=None):
    kw = dict(values=ticks, grid=True, gridColor="#808080", gridWidth=1, tickSize=4,
              minExtent=30, maxExtent=30, labelPadding=4)
    if label_expr:
        kw["labelExpr"] = label_expr
    return alt.Y(f"{field}:Q", scale=alt.Scale(domain=domain, nice=False, zero=False),
                 axis=alt.Axis(**kw), title=None)


def grid_rules(values, color, y):
    return alt.Chart(pd.DataFrame({"g": values})).mark_rule(
        color=color, strokeWidth=1
    ).encode(y=y("g"))


def panel_title(text):
    return alt.Title(text, fontSize=13, font=FONT, fontWeight="normal", color="black", offset=5)


# ---------------------------------------------------------------- top panel
top_dom = [0.21, 5.29]
ytop = lambda f: y_enc(f, top_dom, [1, 2, 3, 4, 5])

dimm_df = pd.DataFrame(dimm, columns=["t", "v"])
scatter_df = pd.concat([pairs(gc1, "gc1"), pairs(gc2, "gc2"), expand(wfs1, "wfs1"),
                        expand(wfs2, "wfs2")], ignore_index=True)
wfs1_df = expand(wfs1, "wfs1").reset_index().rename(columns={"index": "i"})

top_minor = [round(0.2 * k, 1) for k in range(2, 27) if k % 5 != 0]

legend = alt.Legend(
    title=None, orient="none", legendX=20, legendY=6, columns=2, direction="horizontal",
    columnPadding=30, rowPadding=9, padding=15, symbolSize=64, symbolStrokeWidth=1.5,
    symbolOpacity=1, labelFontSize=13, labelFont=FONT, labelColor="black", labelOffset=14,
    fillColor="white", strokeColor="#333333", cornerRadius=0,
)

scatter = alt.Chart(scatter_df).mark_point(strokeWidth=1.5, clip=True).encode(
    x=x_enc(), y=ytop("v"),
    shape=alt.Shape("series:N", scale=alt.Scale(
        domain=series_order, range=[X_PATH, PLUS_PATH, "diamond", "triangle-down", DIMM_PATH]),
        legend=legend),
    fill=alt.Fill("series:N", scale=alt.Scale(
        domain=series_order, range=["transparent", "transparent", "#ffd21f", "#6e6e6e", "#e6e63c"]),
        legend=legend),
    stroke=alt.Stroke("series:N", scale=alt.Scale(
        domain=series_order, range=["#e8a23c", "#2a7f7c", "#ff3300", "#3a3a3a", "#1a1ae0"]),
        legend=legend),
    size=alt.Size("series:N", scale=alt.Scale(domain=series_order, range=[55, 60, 80, 50, 55]),
                  legend=None),
    opacity=alt.Opacity("series:N", scale=alt.Scale(domain=series_order,
                        range=[0.7, 0.8, 1, 1, 1]), legend=None),
)

wfs1_line = alt.Chart(wfs1_df).mark_line(color="#c4c4c4", strokeWidth=0.8, clip=True).encode(
    x=x_enc(), y=ytop("v"), order="i:Q")

dimm_line = alt.Chart(dimm_df).mark_line(color="#1a1ae0", strokeWidth=2, clip=True).encode(
    x=x_enc(), y=ytop("v"))
dimm_pts = alt.Chart(dimm_df).mark_point(
    shape="circle", filled=True, fill="#e6e63c", stroke="#1a1ae0", strokeWidth=1.8,
    size=48, opacity=1, clip=True,
).encode(x=x_enc(), y=ytop("v"))

top = alt.layer(
    grid_rules(top_minor, "#cfcfcf", ytop), wfs1_line, scatter, dimm_line, dimm_pts
).properties(width=W, height=301, title=panel_title("DIQ - 2025-02-20"))

# ---------------------------------------------------------------- middle panel
mid_dom = [-1.25, 2.5]
ymid = lambda f: y_enc(f, mid_dom, [-1, 0, 1, 2])
mid_half = [-0.5, 0.5, 1.5]
mid_faint = [round(0.1 * k, 1) for k in range(-12, 25) if k % 5 != 0]

guider_df = expand(guider, "guider").reset_index().rename(columns={"index": "i"})
wfs_df = expand(wfs, "wfs").reset_index().rename(columns={"index": "i"})

mid = alt.layer(
    grid_rules(mid_faint, "#efefef", ymid),
    grid_rules(mid_half, "#c4c4c4", ymid),
    alt.Chart(wfs_df).mark_line(color="#c4c4c4", strokeWidth=0.8, clip=True).encode(
        x=x_enc(), y=ymid("v"), order="i:Q"),
    alt.Chart(guider_df).mark_line(color="#c4c4c4", strokeWidth=0.8, clip=True).encode(
        x=x_enc(), y=ymid("v"), order="i:Q"),
    alt.Chart(wfs_df).mark_point(shape="circle", filled=True, fill="#800080", stroke="#dcc4ec",
                                 strokeWidth=0.8, size=80, opacity=1, clip=True).encode(
        x=x_enc(), y=ymid("v")),
    alt.Chart(guider_df).mark_point(shape=X_PATH, stroke="#ff0000", strokeWidth=2.4, size=45,
                                    opacity=1, clip=True).encode(x=x_enc(), y=ymid("v")),
).properties(width=W, height=106, title=panel_title("Guider \u2014 WFS"))

# ---------------------------------------------------------------- bottom panel
bot_dom = [-0.2, 1.95]
ybot = lambda f: y_enc(f, bot_dom, [0, 0.5, 1.0, 1.5],
                       "datum.value == 0 ? '0' : format(datum.value, '.1f')")
bot_faint = [round(0.05 * k, 2) for k in range(-3, 39) if k % 10 != 0]

bliq_df = expand(bliq, "bliq")
band_start = dimm_df["t"].min()
band_end = max(t for t, _ in wfs1)
band_df = pd.DataFrame({"t0": [band_start], "t1": [band_end],
                        "lo": [bliq_limits[0]], "hi": [bliq_limits[1]]})
limit_df = pd.DataFrame({"t0": band_start, "t1": band_end, "v": bliq_limits})

bot = alt.layer(
    grid_rules(bot_faint, "#e9e9e9", ybot),
    alt.Chart(band_df).mark_rect(color="#fbe3e3", opacity=0.6).encode(
        x=x_enc("t0"), x2="t1:Q", y=ybot("lo"), y2="hi:Q"),
    alt.Chart(limit_df).mark_rule(color="#cc2a2a", strokeWidth=1.3, strokeDash=[4, 2]).encode(
        x=x_enc("t0"), x2="t1:Q", y=ybot("v")),
    alt.Chart(bliq_df).mark_point(shape="circle", filled=True, fill="#000080", stroke="#c8c8e6",
                                  strokeWidth=0.8, size=75, opacity=1, clip=True).encode(
        x=x_enc(), y=ybot("v")),
).properties(width=W, height=109, title=panel_title("BLIQ+HO+LO \u2014 BLIQ+HO"))

lower = alt.vconcat(mid, bot, spacing=24).resolve_scale(x="independent", y="independent")

chart = alt.vconcat(top, lower, spacing=19).resolve_scale(
    x="independent", y="independent"
).resolve_legend(
    shape="independent", fill="independent", stroke="independent"
).properties(
    padding={"left": 7, "top": 12, "right": 5, "bottom": 2}
).configure(font=FONT).configure_view(stroke=None).configure_axis(
    labelFont=FONT, labelFontSize=13, labelColor="black", domainColor="black",
    tickColor="black", domainWidth=1,
)

chart.save("out.html", embed_options={"renderer": "svg", "actions": False})
